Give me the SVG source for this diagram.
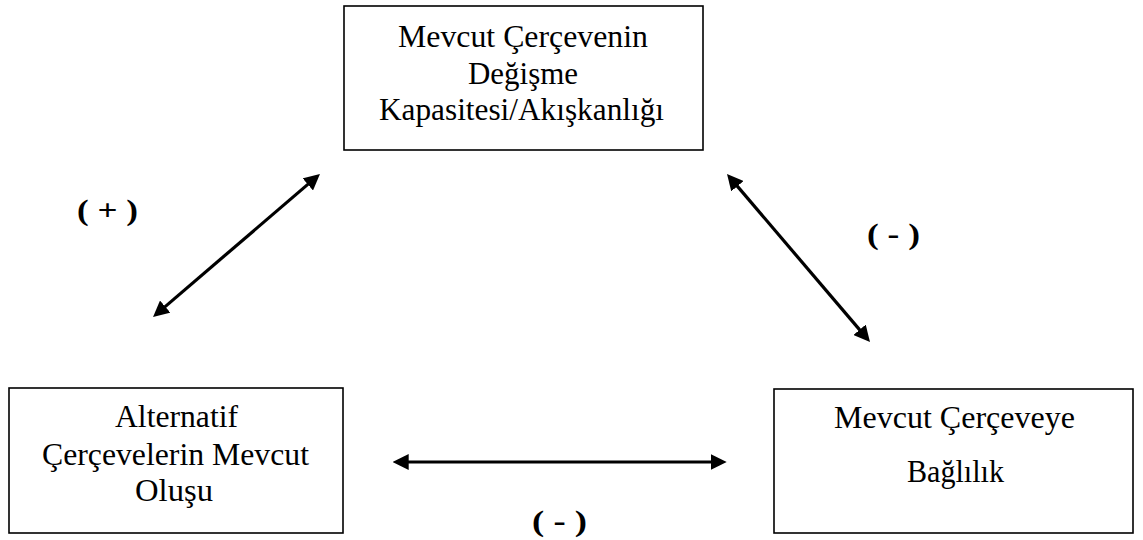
<svg xmlns="http://www.w3.org/2000/svg" width="1143" height="540" viewBox="0 0 1143 540">
<defs>
<style>
.box{fill:#fff;stroke:#000;stroke-width:1.6}
.t{font-family:"Liberation Serif","Times New Roman",serif;font-size:30.5px;fill:#000}
.lbl{font-family:"Liberation Serif","Times New Roman",serif;font-size:30px;font-weight:bold;fill:#000}
.con{stroke:#000;stroke-width:3.2;fill:none;marker-start:url(#ah);marker-end:url(#ah)}
</style>
<marker id="ah" markerUnits="userSpaceOnUse" markerWidth="16" markerHeight="16" viewBox="0 0 16 16" refX="10" refY="8" orient="auto-start-reverse">
<path d="M0,0 L16,8 L0,16 z" fill="#000"/>
</marker>
</defs>
<rect width="1143" height="540" fill="#fff"/>
<g id="node-top">
<rect class="box" x="344" y="6" width="359" height="144"/>
<text class="t" x="398" y="47" textLength="250" lengthAdjust="spacingAndGlyphs">Mevcut Çerçevenin</text>
<text class="t" x="468" y="84" textLength="110" lengthAdjust="spacingAndGlyphs">Değişme</text>
<text class="t" x="379" y="120" textLength="285" lengthAdjust="spacingAndGlyphs">Kapasitesi/Akışkanlığı</text>
</g>
<g id="node-left">
<rect class="box" x="9" y="388" width="334" height="145"/>
<text class="t" x="115" y="427" textLength="123" lengthAdjust="spacingAndGlyphs">Alternatif</text>
<text class="t" x="42" y="465" textLength="267" lengthAdjust="spacingAndGlyphs">Çerçevelerin Mevcut</text>
<text class="t" x="135" y="501" textLength="78" lengthAdjust="spacingAndGlyphs">Oluşu</text>
</g>
<g id="node-right">
<rect class="box" x="774" y="389" width="359" height="144"/>
<text class="t" x="834" y="428" textLength="241" lengthAdjust="spacingAndGlyphs">Mevcut Çerçeveye</text>
<text class="t" x="907" y="482" textLength="97" lengthAdjust="spacingAndGlyphs">Bağlılık</text>
</g>
<g id="connectors">
<line class="con" x1="157.6" y1="313.1" x2="315.4" y2="177.9"/>
<line class="con" x1="730.9" y1="178.6" x2="866.1" y2="337.4"/>
<line class="con" x1="398.7" y1="462" x2="720.7" y2="462"/>
</g>
<g id="labels">
<text class="lbl" x="77" y="220" textLength="61" lengthAdjust="spacingAndGlyphs">( + )</text>
<text class="lbl" x="867" y="244" textLength="53" lengthAdjust="spacingAndGlyphs">( - )</text>
<text class="lbl" x="532" y="531" textLength="55" lengthAdjust="spacingAndGlyphs">( - )</text>
</g>
</svg>
